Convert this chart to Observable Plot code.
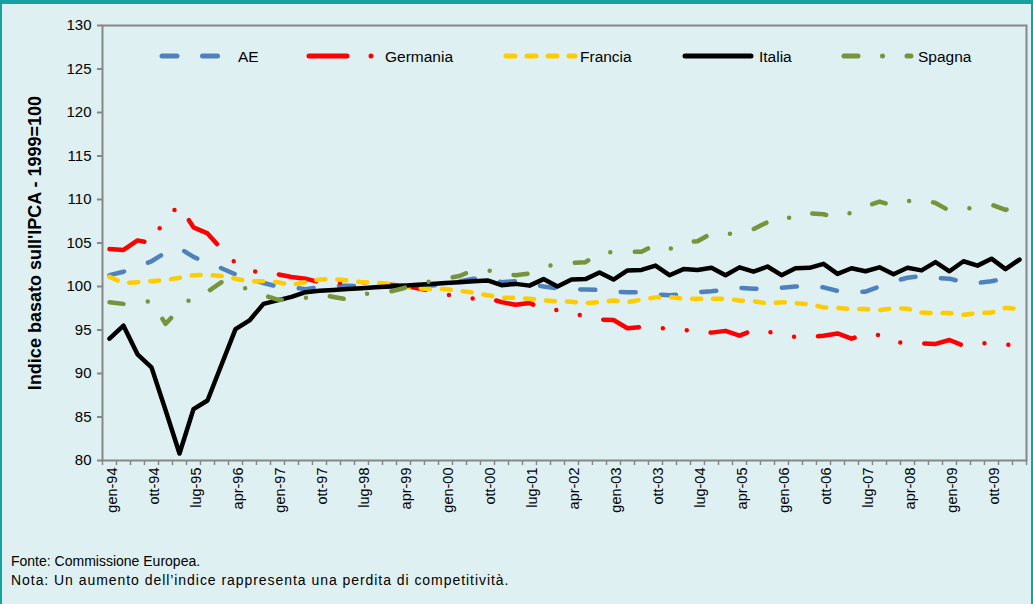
<!DOCTYPE html>
<html><head><meta charset="utf-8">
<script src="https://cdn.jsdelivr.net/npm/d3@7"></script>
<script src="https://cdn.jsdelivr.net/npm/@observablehq/plot@0.6"></script>
<style>
html,body{margin:0;padding:0;background:#dff0f2;}
#wrap{position:relative;width:1033px;height:604px;overflow:hidden;background:#dff0f2;font-family:"Liberation Sans",Arial,sans-serif;}
#chart{position:absolute;left:0;top:0;}
#legend{position:absolute;left:0;top:0;}
#border{position:absolute;left:0;top:0;width:1033px;height:604px;box-sizing:border-box;border-top:4px solid #16a0a0;border-left:2px solid #16a0a0;border-right:2px solid #16a0a0;pointer-events:none;}
.note{position:absolute;left:11px;font-size:14px;line-height:16px;color:#000;white-space:nowrap;}
</style>
</head><body>
<div id="wrap">
  <div id="chart"></div>
  <svg id="legend" width="1033" height="100"></svg>
  <div class="note" style="top:553px">Fonte: Commissione Europea.</div>
  <div class="note" style="top:572px;letter-spacing:0.95px">Nota: Un aumento dell’indice rappresenta una perdita di competitività.</div>
  <div id="border"></div>
</div>
<script>
// quarterly categories, gen-94 .. apr-10
const monthNames = ["gen", "apr", "lug", "ott"];
const firstYear = 1994, nQuarters = 66;
const quarters = [];
for (let k = 0; k < nQuarters; k++) {
  const y = firstYear + Math.floor(k / 4);
  quarters.push(monthNames[k % 4] + "-" + String(y % 100).padStart(2, "0"));
}
const labelEvery = 3;
const yTicks = [80, 85, 90, 95, 100, 105, 110, 115, 120, 125, 130];

const AE = [101.3,101.7,102.3,102.9,103.9,104.4,103.4,102.7,102.1,101.4,100.9,100.4,100.0,99.9,99.7,99.9,100.1,100.1,100.0,100.0,100.0,100.0,100.0,100.1,100.3,100.6,100.9,100.9,100.5,100.6,100.3,100.0,99.8,99.7,99.65,99.6,99.4,99.35,99.35,99.1,99.0,99.1,99.35,99.45,99.6,99.85,99.75,99.7,99.85,100.0,100.0,99.9,99.5,99.4,99.4,100.0,100.6,101.0,101.2,101.0,100.9,100.5,100.4,100.6,100.95,101.3];
const Germania = [104.3,104.2,105.3,105.0,107.9,109.3,106.8,106.1,104.3,102.7,101.9,101.5,101.4,101.1,100.9,100.5,100.4,100.4,100.5,100.3,100.2,100.1,99.8,99.5,99.1,98.8,98.6,98.7,98.2,97.9,98.1,97.4,97.3,96.9,96.6,96.2,96.15,95.2,95.35,95.3,95.1,95.0,94.9,94.7,94.9,94.35,95.0,94.8,94.5,94.2,94.15,94.35,94.6,94.0,94.55,94.4,93.6,93.5,93.45,93.4,93.85,93.2,93.45,93.5,93.3,93.3];
const Francia = [101.1,100.4,100.5,100.6,100.75,101.0,101.3,101.35,101.2,100.9,100.6,100.6,100.5,100.2,100.5,100.8,100.85,100.7,100.5,100.45,100.3,100.0,99.8,99.7,99.7,99.5,99.3,99.0,98.7,98.7,98.6,98.4,98.3,98.25,98.1,98.2,98.4,98.2,98.5,98.75,98.8,98.6,98.6,98.6,98.6,98.4,98.3,98.05,98.2,98.1,97.95,97.6,97.55,97.4,97.4,97.3,97.5,97.45,97.0,96.95,96.95,96.75,96.95,97.0,97.55,97.4];
const Italia = [94.0,95.5,92.2,90.7,85.8,80.8,85.9,86.9,91.0,95.1,96.1,98.0,98.4,98.8,99.35,99.5,99.6,99.7,99.8,99.9,100.0,100.1,100.2,100.3,100.4,100.5,100.6,100.7,100.15,100.3,100.1,100.85,100.0,100.8,100.85,101.6,100.8,101.85,101.9,102.4,101.3,102.0,101.9,102.15,101.3,102.2,101.7,102.3,101.3,102.1,102.15,102.6,101.45,102.1,101.75,102.2,101.4,102.15,101.85,102.8,101.75,102.9,102.4,103.2,102.0,103.1];
const Spagna = [98.2,98.0,98.2,98.3,95.7,97.4,98.9,99.4,100.5,100.2,99.6,99.0,98.5,98.4,98.7,99.1,98.8,98.5,99.1,99.3,99.4,99.8,100.4,100.6,100.9,101.2,101.9,101.9,101.4,101.3,101.5,102.2,102.6,102.7,102.8,103.9,103.95,104.0,104.0,104.8,104.3,105.1,105.2,106.1,105.9,106.4,106.6,107.4,107.3,108.4,108.4,108.3,107.9,108.5,109.2,109.75,109.3,109.8,110.0,109.6,108.7,108.9,109.1,109.4,108.8,109.3];

const seriesNames = ["AE", "Germania", "Francia", "Italia", "Spagna"];
const seriesValues = [AE, Germania, Francia, Italia, Spagna];
const seriesColors = ["#4f81bd", "#ff0000", "#ffcc00", "#000000", "#77933c"];
const seriesDash = ["15,25.5", "38,24,0,24,0,24", "9,12", null, "14,24.5,0,24.5"];

const lineMarks = seriesValues.map((vals, s) =>
  Plot.line(vals.map((v, i) => ({i, v})), {
    x: "i", y: "v",
    stroke: seriesColors[s], strokeWidth: 4.5,
    strokeDasharray: seriesDash[s] || undefined,
    strokeLinecap: "round", strokeLinejoin: "round"
  })
);

const boundaries = d3.range(0, nQuarters + 1).map(k => k - 0.5);
const labelIdx = d3.range(0, nQuarters, labelEvery);

const chart = Plot.plot({
  width: 1033, height: 530,
  marginLeft: 102, marginRight: 7, marginTop: 25, marginBottom: 70,
  style: {background: "transparent", fontFamily: "'Liberation Sans', Arial, sans-serif", color: "#000", overflow: "visible"},
  x: {type: "linear", domain: [-0.5, nQuarters - 0.5], axis: null},
  y: {domain: [80, 130], axis: null},
  marks: [
    ...lineMarks,
    Plot.frame({stroke: "#878787", strokeWidth: 2}),
    Plot.axisY(yTicks, {anchor: "left", tickSize: 5, tickPadding: 6, fontSize: 15, stroke: "#878787", strokeWidth: 2, label: null, tickFormat: d => String(d)}),
    Plot.axisX(boundaries, {anchor: "bottom", tickSize: 5, stroke: "#878787", strokeWidth: 1.5, label: null, tickFormat: () => ""}),
    Plot.text(labelIdx, {x: d => d, frameAnchor: "bottom", text: d => quarters[d], rotate: -90, textAnchor: "end", lineAnchor: "middle", dy: 7, dx: 3, fontSize: 14.5}),
    Plot.text(["Indice basato sull'IPCA - 1999=100"], {frameAnchor: "left", textAnchor: "middle", lineAnchor: "middle", rotate: -90, dx: -67, fontWeight: "bold", fontSize: 18})
  ]
});
document.getElementById("chart").appendChild(chart);

// legend (inside the plot area, as in the original)
const legendItems = [
  {x1: 162, x2: 226, tx: 238},
  {x1: 309, x2: 374, tx: 385},
  {x1: 506, x2: 575, tx: 580},
  {x1: 685, x2: 751, tx: 759},
  {x1: 844, x2: 911, tx: 918}
];
const lg = d3.select("#legend");
legendItems.forEach((it, s) => {
  const l = lg.append("line").attr("x1", it.x1).attr("x2", it.x2).attr("y1", 56).attr("y2", 56)
    .attr("stroke", seriesColors[s]).attr("stroke-width", 5).attr("stroke-linecap", "round");
  if (seriesDash[s]) l.attr("stroke-dasharray", seriesDash[s]);
  lg.append("text").attr("x", it.tx).attr("y", 56).attr("dy", "0.36em")
    .attr("font-size", 15.5).attr("font-family", "'Liberation Sans', Arial, sans-serif")
    .attr("fill", "#000").text(seriesNames[s]);
});
</script>
</body></html>
